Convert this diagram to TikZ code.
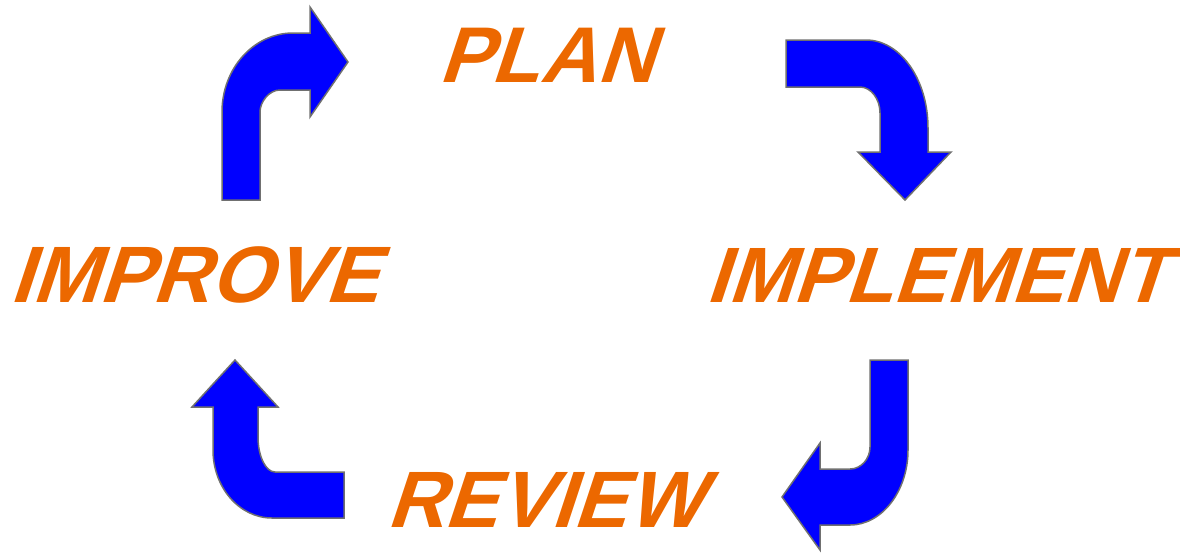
\documentclass[tikz,border=0pt]{standalone}
\usepackage{fontspec}
\newfontfamily\lab{Liberation Sans}[UprightFont = * Bold, FakeSlant=0.33]
\definecolor{lblorange}{RGB}{236,104,0}
\definecolor{arrblue}{RGB}{0,0,255}
\definecolor{arrgray}{RGB}{112,112,112}
\tikzset{
  bentarrow/.style={fill=arrblue, draw=arrgray, line width=1.5pt, line join=miter},
  steplabel/.style={font=\lab\fontsize{80}{82}\selectfont, text=lblorange, inner sep=0pt, anchor=base west}
}
\begin{document}
\begin{tikzpicture}[x=1pt,y=-1pt]
\useasboundingbox (0,0) rectangle (1180,552);
% labels
\node[steplabel, font=\lab\fontsize{79}{81}\selectfont] (plan) at (438,82) {PLAN};
\node[steplabel] (improve) at (9,302) {IMPROVE};
\node[steplabel, font=\lab\fontsize{78.5}{81}\selectfont] (implement) at (705,302) {IMPLEMENT};
\node[steplabel] (review) at (386,527) {REVIEW};
% arrow 1: up then right
\draw[bentarrow] (222,200) -- (222,112) .. controls (222,68.4) and (253.8,33) .. (293,33)
  -- (310,33) -- (310,7) -- (348,62) -- (310,117) -- (310,90) -- (280,90)
  .. controls (269,90) and (260,102) .. (260,112) -- (260,200) -- cycle;
% arrow 2: right then down
\draw[bentarrow] (786,40) -- (866,40) .. controls (900,40) and (928,79) .. (928,128)
  -- (928,152) -- (951,152) -- (905,200) -- (858,152) -- (880,152) -- (880,113)
  .. controls (880,99) and (871,87) .. (860,87) -- (786,87) -- cycle;
% arrow 3: down then left
\draw[bentarrow] (870,360) -- (908,360) -- (908,450) .. controls (908,491) and (882,525) .. (850,525)
  -- (820,525) -- (820,550) -- (782,497) -- (820,443) -- (820,469) -- (850,469)
  .. controls (861,469) and (870,459) .. (870,447) -- cycle;
% arrow 4: left then up
\draw[bentarrow] (344,472) -- (275,472) .. controls (265.6,472) and (258,456) .. (258,437)
  -- (258,407) -- (278,407) -- (235,360) -- (192,407) -- (213,407) -- (213,450)
  .. controls (213,487.5) and (239.4,518) .. (272,518) -- (344,518) -- cycle;
\end{tikzpicture}
\end{document}
